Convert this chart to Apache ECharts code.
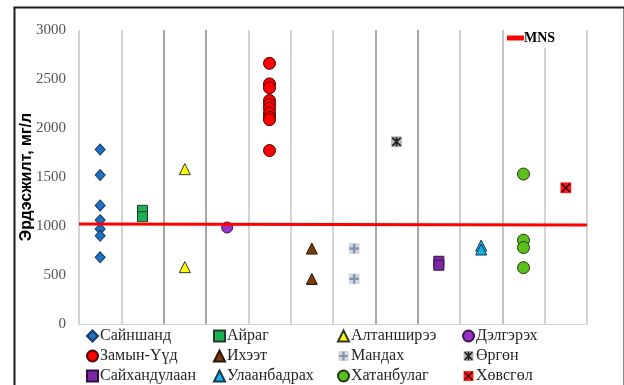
<!DOCTYPE html>
<html>
<head>
<meta charset="utf-8">
<script src="https://cdn.jsdelivr.net/npm/echarts@6/dist/echarts.min.js"></script>
<style>
  html, body { margin: 0; padding: 0; background: #fff; }
  #chart { width: 624px; height: 385px; }
</style>
</head>
<body>
<div id="chart"></div>
<script>
// Sampling sites (one column each) and measured mineralisation, mg/l
const sites = ['Сайншанд', 'Айраг', 'Алтанширээ', 'Дэлгэрэх', 'Замын-Үүд', 'Ихээт',
               'Мандах', 'Өргөн', 'Сайхандулаан', 'Улаанбадрах', 'Хатанбулаг', 'Хөвсгөл'];

const sainshand    = [1780, 1520, 1210, 1060, 970, 900, 680];
const airag        = [1160, 1095];
const altanshiree  = [1580, 580];
const delgerekh    = [985];
const zamynUud     = [2660, 2450, 2410, 2280, 2240, 2200, 2150, 2110, 2085, 1770];
const ikhkhet      = [770, 460];
const mandakh      = [770, 460];
const urgun        = [1860];
const saikhandulaan = [640, 600];
const ulaanbadrakh = [800, 760];
const khatanbulag  = [1530, 855, 780, 575];
const khuvsgul     = [1390];

// Permissible level (MNS) line, from the left edge to the right edge of the plot
const mnsX = [0, 12];
const mnsY = [1020, 1010];

const yTicks = { min: 0, max: 3000, step: 500 };

function svgIcon(body) {
  const svg = '<svg xmlns="http://www.w3.org/2000/svg" width="20" height="20" viewBox="0 0 20 20">' + body + '</svg>';
  return 'image://data:image/svg+xml;charset=utf-8,' + encodeURIComponent(svg);
}

const plusIcon = svgIcon(
  '<rect x="1" y="1" width="18" height="18" fill="#d3d7de"/>' +
  '<path d="M8 2h4v6h6v4h-6v6h-4v-6h-6v-4h6z" fill="#8394b0"/>');
const starIcon = svgIcon(
  '<rect x="1" y="1" width="18" height="18" fill="#b8b8b8"/>' +
  '<path d="M10 2v16M3 3l14 14M17 3L3 17" stroke="#222" stroke-width="3" fill="none"/>');
const crossIcon = svgIcon(
  '<rect x="1" y="1" width="18" height="18" fill="#ff1a1a"/>' +
  '<path d="M3 3l14 14M17 3L3 17" stroke="#3a0000" stroke-width="2.6" fill="none"/>');

// marker style per site
const styles = [
  { symbol: 'diamond',  size: [10, 11], color: '#1f6fc2', border: '#173a66' },
  { symbol: 'rect',     size: 10, color: '#1eae55', border: '#1f3d28' },
  { symbol: 'triangle', size: 11, color: '#ffff00', border: '#333' },
  { symbol: 'circle',   size: 11, color: '#9a32c8', border: '#3d1450' },
  { symbol: 'circle',   size: 12, color: '#ff0000', border: '#4a0000' },
  { symbol: 'triangle', size: 11, color: '#7a3c0a', border: '#2a1505' },
  { symbol: plusIcon,   size: 12, color: '#8394b0', border: null },
  { symbol: starIcon,   size: 12, color: '#555', border: null },
  { symbol: 'rect',     size: 10, color: '#7a28a8', border: '#2d1040' },
  { symbol: 'triangle', size: 11, color: '#18aee8', border: '#163a52' },
  { symbol: 'circle',   size: 12, color: '#5cbf1c', border: '#1f3a0a' },
  { symbol: crossIcon,  size: 12, color: '#ff1a1a', border: null }
];

const values = [sainshand, airag, altanshiree, delgerekh, zamynUud, ikhkhet,
                mandakh, urgun, saikhandulaan, ulaanbadrakh, khatanbulag, khuvsgul];

const scatterSeries = sites.map((name, i) => ({
  name: name,
  type: 'scatter',
  symbol: styles[i].symbol,
  symbolSize: styles[i].size,
  itemStyle: {
    color: styles[i].color,
    borderColor: styles[i].border || styles[i].color,
    borderWidth: styles[i].border ? 1 : 0,
    opacity: 1
  },
  z: 3,
  data: values[i].map(v => [i + 0.5, v])
}));

const mnsSeries = {
  name: 'MNS',
  type: 'line',
  symbol: 'none',
  lineStyle: { color: '#ff0000', width: 3 },
  itemStyle: { color: '#ff0000' },
  z: 5,
  data: mnsX.map((x, i) => [x, mnsY[i]])
};

const serif = '"Liberation Serif", "Times New Roman", serif';

// four legend columns, three entries each
const columns = [
  { left: 86,  items: [sites[0], sites[4], sites[8]] },
  { left: 213, items: [sites[1], sites[5], sites[9]] },
  { left: 337, items: [sites[2], sites[6], sites[10]] },
  { left: 462, items: [sites[3], sites[7], sites[11]] }
];

const siteLegends = columns.map(c => ({
  orient: 'vertical',
  left: c.left,
  top: 328,
  itemWidth: 11,
  itemHeight: 11,
  itemGap: 4,
  padding: 0,
  selectedMode: false,
  data: c.items,
  textStyle: { fontFamily: serif, fontSize: 16, color: '#262626', lineHeight: 15, padding: [0, 0, 0, -3] }
}));

const chart = echarts.init(document.getElementById('chart'), null, { renderer: 'canvas' });

chart.setOption({
  animation: false,
  backgroundColor: '#fff',
  grid: { left: 79, right: 37, top: 30, bottom: 61, containLabel: false },
  graphic: [{
    type: 'rect',
    left: 12, top: 5,
    shape: { width: 610, height: 392 },
    style: { fill: 'none', stroke: '#1a1a1a', lineWidth: 2 },
    z: 0
  }],
  legend: [{
    left: 505,
    top: 28,
    itemWidth: 17,
    itemHeight: 5,
    padding: [3, 22, 3, 2],
    backgroundColor: '#fff',
    selectedMode: false,
    data: [{ name: 'MNS', icon: 'rect' }],
    textStyle: { fontFamily: serif, fontSize: 14, fontWeight: 'bold', color: '#000', padding: [0, 0, 0, -5] },
    z: 10
  }].concat(siteLegends),
  xAxis: {
    type: 'value',
    min: 0,
    max: sites.length,
    interval: 1,
    axisLine: { show: true, onZero: false, lineStyle: { color: '#d0d0d0', width: 1 } },
    axisTick: { show: false },
    axisLabel: { show: false },
    splitLine: {
      show: true,
      lineStyle: {
        width: 2,
        color: ['#d4d4d4', '#d4d4d4', '#a8a8a8', '#a8a8a8', '#d4d4d4', '#d4d4d4', '#d4d4d4',
                '#a8a8a8', '#a8a8a8', '#d0d0d0', '#c4c4c4', '#d4d4d4', '#d4d4d4']
      }
    }
  },
  yAxis: {
    type: 'value',
    min: yTicks.min,
    max: yTicks.max,
    interval: yTicks.step,
    name: 'Эрдэсжилт, мг/л',
    nameLocation: 'middle',
    nameGap: 44,
    nameMoveOverlap: false,
    nameTextStyle: { fontFamily: '"Liberation Sans", Arial, sans-serif', fontSize: 16, fontWeight: 'bold', color: '#000' },
    axisLine: { show: false },
    axisTick: { show: false },
    splitLine: { show: false },
    axisLabel: { fontFamily: serif, fontSize: 15, color: '#555', margin: 13, formatter: v => String(v) }
  },
  series: scatterSeries.concat([mnsSeries])
});
</script>
</body>
</html>
